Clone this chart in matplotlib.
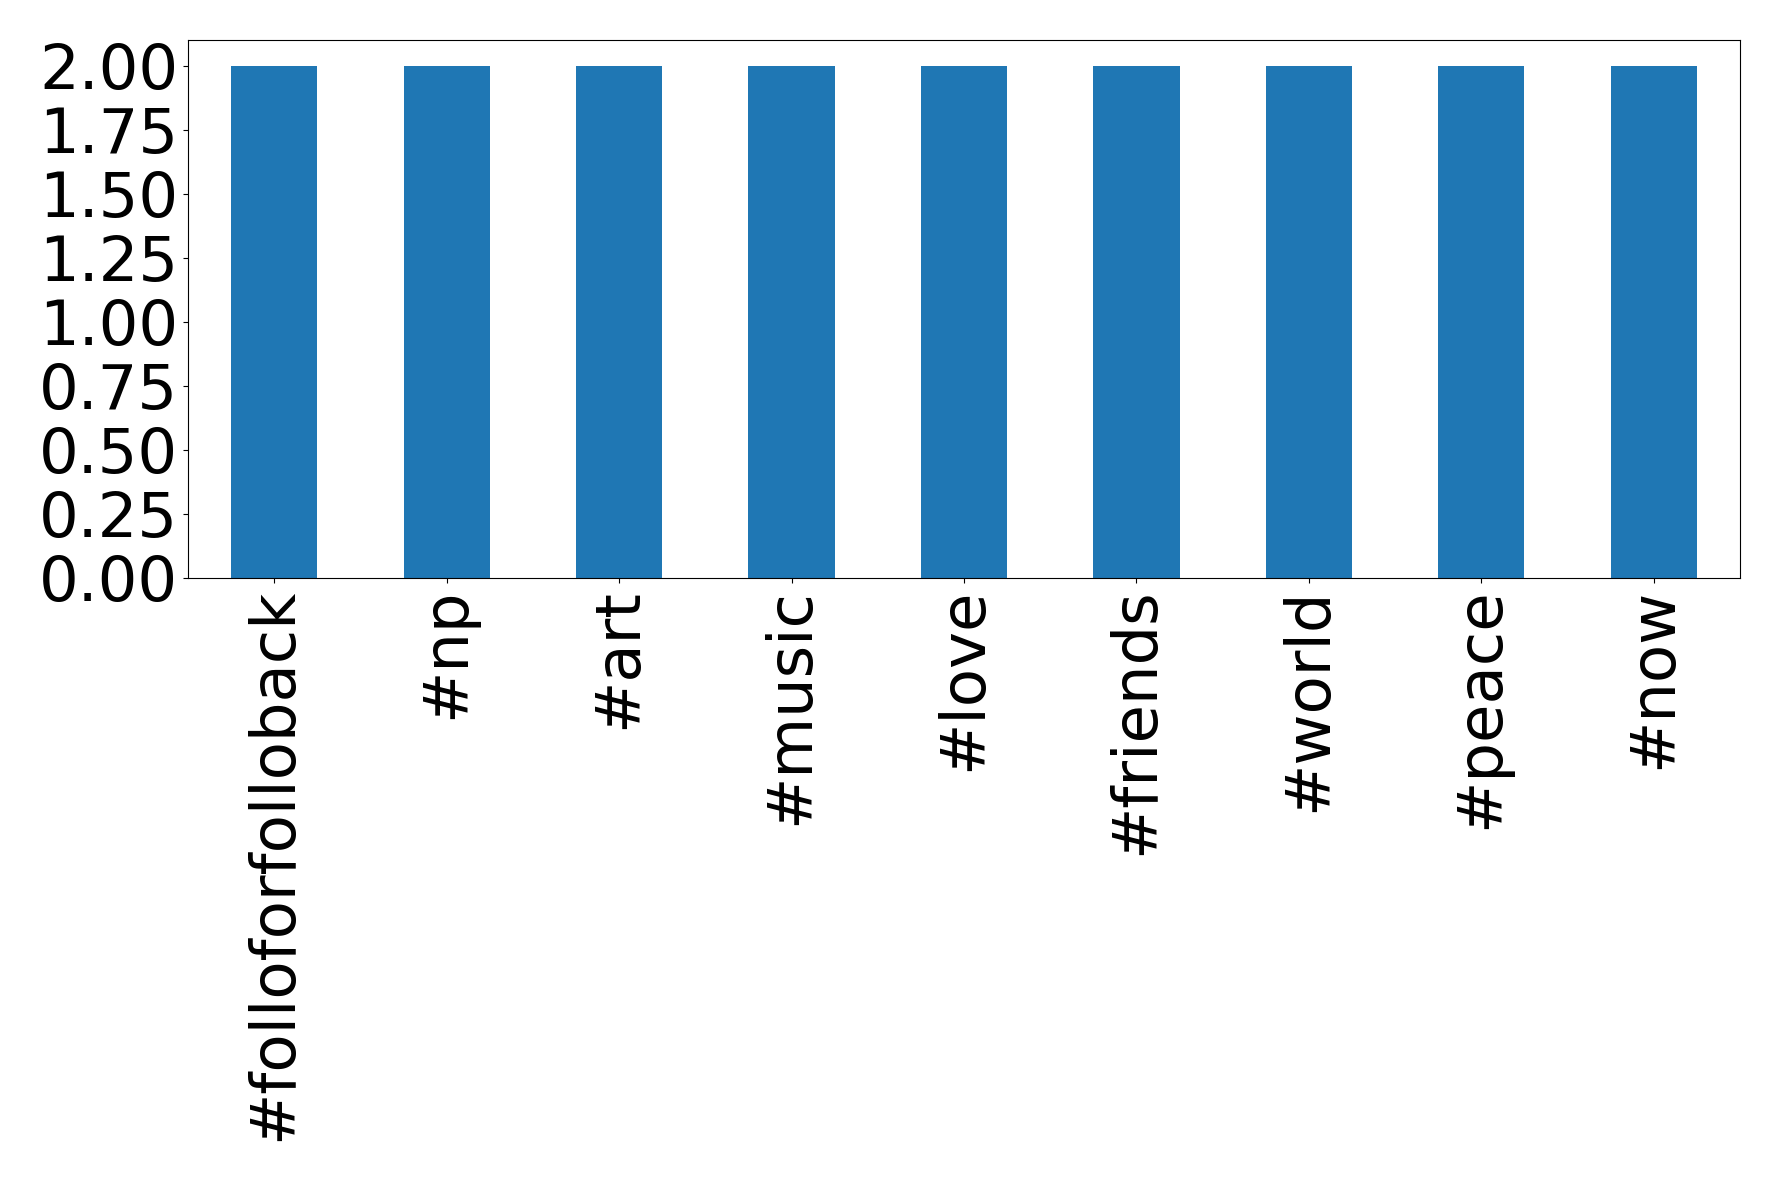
import matplotlib
matplotlib.use("Agg")
import matplotlib.pyplot as plt

# hashtag counts
hashtags = ["#folloforfolloback", "#np", "#art", "#music", "#love",
            "#friends", "#world", "#peace", "#now"]
counts = [2, 2, 2, 2, 2, 2, 2, 2, 2]

fig = plt.figure(figsize=(17.78, 11.82), dpi=100)
ax = fig.add_axes([0.1058, 0.511, 0.8728, 0.455])

ax.bar(range(len(hashtags)), counts, width=0.5, color="#1f77b4")
ax.set_xlim(-0.5, len(hashtags) - 0.5)
ax.set_ylim(0, 2.1)
ax.set_yticks([0, 0.25, 0.5, 0.75, 1.0, 1.25, 1.5, 1.75, 2.0])
ax.set_yticklabels(["%.2f" % v for v in ax.get_yticks()])
ax.set_xticks(range(len(hashtags)))
ax.set_xticklabels(hashtags, rotation=90)
ax.tick_params(labelsize=45)

fig.savefig("out.png", dpi=100)
